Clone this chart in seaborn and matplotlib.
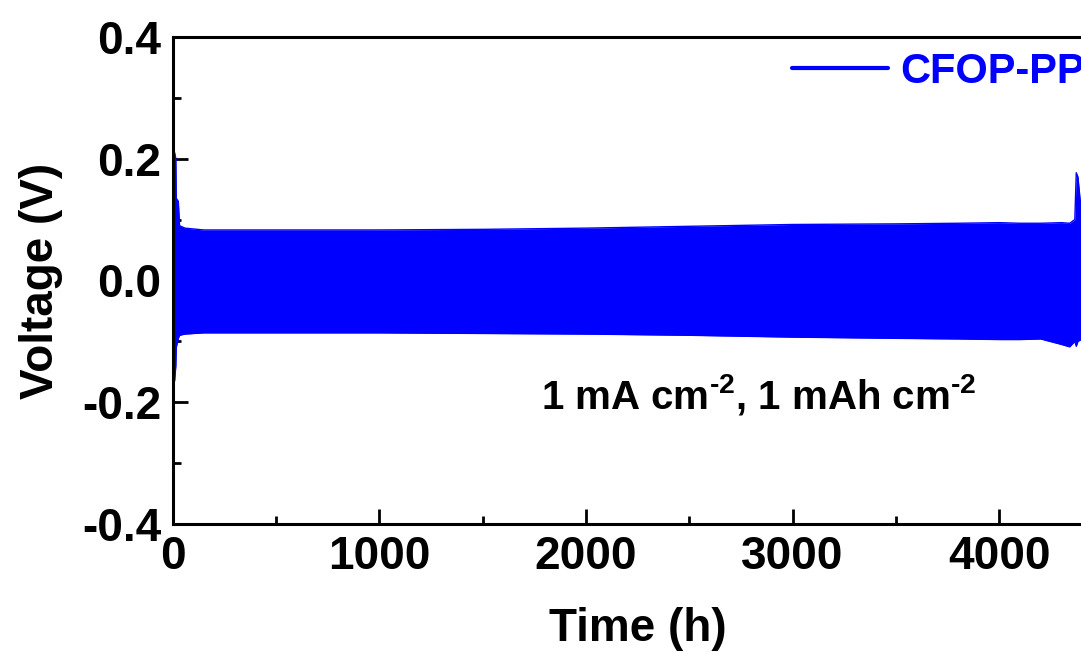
import matplotlib
matplotlib.use("Agg")
import matplotlib.pyplot as plt
from matplotlib.ticker import MultipleLocator
import seaborn as sns
import pandas as pd

# envelope of the dense charge/discharge band
time_h = [0, 10, 16, 18, 28, 34, 60, 150, 500, 1000, 1500, 2000, 2500, 3000, 3500,
          3800, 4000, 4100, 4200, 4300, 4340, 4365, 4372, 4380, 4400]
v_upper = [0.20, 0.21, 0.20, 0.135, 0.13, 0.09, 0.086, 0.083, 0.083, 0.083, 0.084,
           0.086, 0.089, 0.092, 0.093, 0.094, 0.095, 0.094, 0.094, 0.095,
           0.094, 0.10, 0.177, 0.17, 0.10]
v_lower = [-0.16, -0.165, -0.14, -0.11, -0.095, -0.09, -0.088, -0.086, -0.086, -0.086,
           -0.087, -0.088, -0.090, -0.093, -0.095, -0.096, -0.097, -0.097,
           -0.096, -0.105, -0.109, -0.100, -0.108, -0.100, -0.096]

df = pd.DataFrame({"time": time_h, "upper": v_upper, "lower": v_lower})

sns.set_style("ticks")
plt.rcParams['font.family'] = ['Liberation Sans', 'DejaVu Sans']
plt.rcParams['font.weight'] = 'bold'
plt.rcParams['axes.unicode_minus'] = False
plt.rcParams['mathtext.fontset'] = 'custom'
plt.rcParams['mathtext.rm'] = 'Liberation Sans:bold'
plt.rcParams['mathtext.bf'] = 'Liberation Sans:bold'
plt.rcParams['mathtext.default'] = 'bf'
for k in ['text.color', 'axes.labelcolor', 'xtick.color', 'ytick.color']:
    plt.rcParams[k] = 'black'

blue = '#0000FF'
fig = plt.figure(figsize=(10.81, 6.52), dpi=100)
ax = fig.add_axes([0.1596, 0.1963, 0.8605, 0.747])

sns.lineplot(data=df, x="time", y="upper", color=blue, lw=1, ax=ax, label="CFOP-PP")
sns.lineplot(data=df, x="time", y="lower", color=blue, lw=1, ax=ax)
ax.fill_between(df["time"], df["lower"], df["upper"], color=blue, lw=0)

ax.set_xlim(0, 4500)
ax.set_ylim(-0.4, 0.4)
ax.xaxis.set_major_locator(MultipleLocator(1000))
ax.xaxis.set_minor_locator(MultipleLocator(500))
ax.yaxis.set_major_locator(MultipleLocator(0.2))
ax.yaxis.set_minor_locator(MultipleLocator(0.1))
ax.set_yticks([-0.4, -0.2, 0.0, 0.2, 0.4])
ax.set_yticklabels(["-0.4", "-0.2", "0.0", "0.2", "0.4"])

for s in ax.spines.values():
    s.set_linewidth(2.2)
    s.set_color('black')
ax.tick_params(which='major', direction='in', length=11, width=2, labelsize=33, pad=8)
ax.tick_params(which='minor', direction='in', length=6, width=2)
ax.tick_params(axis='x', which='both', top=False)
ax.tick_params(axis='y', which='both', right=False)

ax.set_xlabel("Time (h)", fontsize=33, fontweight='bold', labelpad=20)
ax.set_ylabel("Voltage (V)", fontsize=33, fontweight='bold', labelpad=14)

ax.text(0.630, 0.265, r"1 mA cm$^{\text{-2}}$, 1 mAh cm$^{\text{-2}}$", transform=ax.transAxes,
        ha='center', va='center', fontsize=29, fontweight='bold')

# legend sits partly outside the cropped frame, as in the source figure
leg = ax.legend(loc='center left', bbox_to_anchor=(0.666, 0.928), frameon=False,
                fontsize=30, handlelength=2.3, handletextpad=0.3,
                borderpad=0, borderaxespad=0)
for t in leg.get_texts():
    t.set_color(blue)
for h in leg.get_lines():
    h.set_linewidth(3)

fig.savefig("out.png", dpi=100)
